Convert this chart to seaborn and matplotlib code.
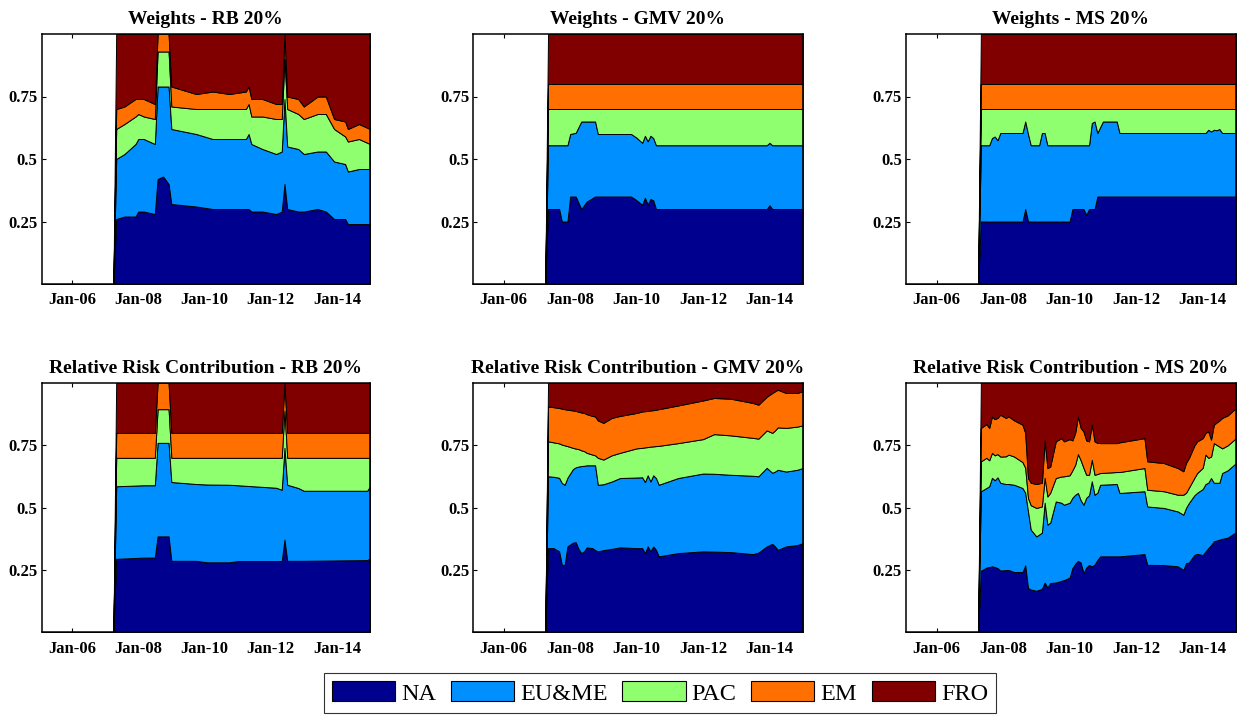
import matplotlib
matplotlib.use("Agg")
import matplotlib.pyplot as plt
from matplotlib.patches import Patch
import seaborn as sns

# ---------------------------------------------------------------- categories
REGIONS = ["NA", "EU&ME", "PAC", "EM", "FRO"]
COLORS = ["#00008F", "#008FFF", "#8FFF70", "#FF7000", "#800000"]

X_TICKS = ["2006-01", "2008-01", "2010-01", "2012-01", "2014-01"]
X_TICK_LABELS = ["Jan-06", "Jan-08", "Jan-10", "Jan-12", "Jan-14"]
Y_TICKS = [0.25, 0.5, 0.75]
Y_TICK_LABELS = ["0.25", "0.5", "0.75"]
X_RANGE = ["2005-02", "2015-01"]

TITLES = [
    "Weights - RB 20%", "Weights - GMV 20%", "Weights - MS 20%",
    "Relative Risk Contribution - RB 20%",
    "Relative Risk Contribution - GMV 20%",
    "Relative Risk Contribution - MS 20%",
]

# ---------------------------------------------------------------- weights, risk budgeting
W_RB_DATES = ["2005-02", "2007-04", "2007-05", "2007-08", "2007-12", "2008-01", "2008-03",
              "2008-07", "2008-08", "2008-10", "2008-12", "2009-01", "2009-10", "2010-04",
              "2010-10", "2011-04", "2011-05", "2011-06", "2011-10", "2012-03", "2012-05",
              "2012-06", "2012-07", "2012-11", "2013-01", "2013-06", "2013-09", "2013-12",
              "2014-04", "2014-05", "2014-09", "2015-01"]
W_RB_NA = [0, 0, .26, .27, .27, .29, .29, .28, .42, .43, .40, .32, .31, .30, .30, .30,
           .30, .29, .29, .28, .29, .40, .30, .29, .29, .30, .29, .26, .26, .24, .24, .24]
W_RB_EU = [0, 0, .24, .25, .29, .29, .29, .28, .37, .36, .39, .30, .29, .28, .28, .28,
           .30, .27, .25, .24, .24, .34, .25, .25, .23, .23, .24, .23, .22, .21, .22, .22]
W_RB_PAC = [0, 0, .12, .12, .11, .10, .09, .10, .14, .14, .14, .09, .10, .12, .12, .12,
            .12, .11, .13, .14, .13, .16, .15, .14, .14, .15, .15, .13, .11, .12, .12, .10]
W_RB_EM = [0, 0, .08, .07, .07, .06, .07, .06, .07, .07, .07, .08, .06, .07, .06, .07,
           .07, .07, .07, .06, .06, .10, .05, .06, .05, .07, .07, .04, .06, .05, .06, .06]
W_RB_FRO = [0, 0, .30, .29, .26, .26, .26, .28, 0, 0, 0, .21, .24, .23, .24, .23,
            .21, .26, .26, .28, .28, 0, .25, .26, .29, .25, .25, .34, .35, .38, .36, .38]

# ---------------------------------------------------------------- weights, global minimum variance
W_GMV_DATES = ["2005-02", "2007-04", "2007-05", "2007-09", "2007-10", "2007-12", "2008-01",
               "2008-03", "2008-05", "2008-07", "2008-10", "2008-11", "2009-11", "2010-01",
               "2010-03", "2010-04", "2010-05", "2010-06", "2010-07", "2010-08", "2013-12",
               "2014-01", "2014-02", "2015-01"]
W_GMV_NA = [0, 0, .30, .30, .25, .25, .35, .35, .30, .33, .35, .35, .35, .335, .317, .345,
            .318, .34, .335, .30, .30, .315, .30, .30]
W_GMV_EU = [0, 0, .255, .255, .305, .305, .25, .255, .35, .32, .30, .25, .25, .25, .248,
            .248, .253, .253, .249, .255, .255, .25, .255, .255]
W_GMV_PAC = [0, 0, .145, .145, .145, .145, .10, .095, .05, .05, .05, .10, .10, .115, .135,
             .107, .129, .107, .116, .145, .145, .135, .145, .145]
W_GMV_EM = [0, 0, .10, .10, .10, .10, .10, .10, .10, .10, .10, .10, .10, .10, .10, .10,
            .10, .10, .10, .10, .10, .10, .10, .10]
W_GMV_FRO = [0, 0, .20, .20, .20, .20, .20, .20, .20, .20, .20, .20, .20, .20, .20, .20,
             .20, .20, .20, .20, .20, .20, .20, .20]

# ---------------------------------------------------------------- weights, maximum Sharpe
W_MS_DATES = ["2005-02", "2007-04", "2007-05", "2007-08", "2007-09", "2007-10", "2007-11",
              "2007-12", "2008-08", "2008-09", "2008-10", "2008-11", "2009-02", "2009-03",
              "2009-04", "2009-05", "2010-01", "2010-02", "2010-06", "2010-07", "2010-08",
              "2010-09", "2010-10", "2010-11", "2011-01", "2011-06", "2011-07", "2014-02",
              "2014-03", "2014-04", "2014-05", "2014-06", "2014-07", "2014-08", "2015-01"]
W_MS_NA = [0, 0, .25, .25, .25, .25, .25, .25, .25, .30, .25, .25, .25, .25, .25, .25, .25,
           .30, .30, .277, .30, .30, .30, .35, .35, .35, .35, .35, .35, .35, .35, .35, .35,
           .35, .35]
W_MS_EU = [0, 0, .305, .305, .334, .34, .325, .354, .354, .35, .35, .305, .305, .354, .354,
           .305, .305, .255, .255, .278, .255, .344, .35, .254, .30, .30, .254, .254, .267,
           .26, .267, .265, .27, .254, .254]
W_MS_PAC = [0, 0, .145, .145, .116, .11, .125, .096, .096, .05, .10, .145, .145, .096, .096,
            .145, .145, .145, .145, .145, .145, .056, .05, .096, .05, .05, .096, .096, .083,
            .09, .083, .085, .08, .096, .096]
W_MS_EM = [0, 0, .10, .10, .10, .10, .10, .10, .10, .10, .10, .10, .10, .10, .10, .10, .10,
           .10, .10, .10, .10, .10, .10, .10, .10, .10, .10, .10, .10, .10, .10, .10, .10,
           .10, .10]
W_MS_FRO = [0, 0, .20, .20, .20, .20, .20, .20, .20, .20, .20, .20, .20, .20, .20, .20, .20,
            .20, .20, .20, .20, .20, .20, .20, .20, .20, .20, .20, .20, .20, .20, .20, .20,
            .20, .20]

# ---------------------------------------------------------------- risk contributions, risk budgeting
R_RB_DATES = ["2005-02", "2007-04", "2007-05", "2008-03", "2008-07", "2008-08", "2008-12",
              "2009-01", "2009-10", "2010-02", "2010-10", "2011-01", "2012-03", "2012-05",
              "2012-06", "2012-07", "2012-11", "2013-01", "2014-12", "2015-01"]
R_RB_NA = [0, 0, .295, .30, .30, .385, .385, .287, .287, .281, .281, .286, .286, .286,
           .372, .287, .287, .287, .29, .298]
R_RB_EU = [0, 0, .291, .29, .29, .375, .375, .316, .308, .312, .311, .304, .294, .286,
           .368, .305, .292, .281, .278, .288]
R_RB_PAC = [0, 0, .114, .11, .11, .135, .135, .097, .105, .107, .108, .11, .12, .128,
            .15, .108, .121, .132, .132, .114]
R_RB_EM = [0, 0, .10, .10, .10, .105, .105, .10, .10, .10, .10, .10, .10, .10,
           .11, .10, .10, .10, .10, .10]
R_RB_FRO = [0, 0, .20, .20, .20, 0, 0, .20, .20, .20, .20, .20, .20, .20,
            0, .20, .20, .20, .20, .20]

# ---------------------------------------------------------------- risk contributions, global minimum variance
R_GMV_DATES = ["2005-02", "2007-04", "2007-05", "2007-07", "2007-09", "2007-10", "2007-11",
               "2007-12", "2008-02", "2008-03", "2008-04", "2008-05", "2008-06", "2008-07",
               "2008-09", "2008-10", "2008-11", "2009-01", "2009-04", "2009-07", "2010-01",
               "2010-03", "2010-04", "2010-05", "2010-06", "2010-07", "2010-08", "2010-09",
               "2011-04", "2012-01", "2012-05", "2012-11", "2013-07", "2013-09", "2013-12",
               "2014-02", "2014-03", "2014-04", "2014-07", "2014-11", "2015-01"]
R_GMV_NA = [0, 0, .338, .338, .325, .271, .271, .345, .36, .362, .335, .318, .325, .341,
            .338, .33, .325, .33, .335, .341, .338, .338, .318, .345, .325, .345, .331,
            .305, .318, .325, .324, .322, .314, .32, .345, .355, .345, .331, .345, .35, .358]
R_GMV_EU = [0, 0, .288, .286, .295, .328, .321, .275, .295, .30, .33, .349, .343, .329,
            .332, .34, .267, .264, .27, .278, .283, .284, .285, .285, .28, .285, .288,
            .287, .301, .312, .312, .31, .314, .306, .315, .285, .30, .321, .30, .302, .301]
R_GMV_PAC = [0, 0, .14, .138, .138, .154, .158, .127, .085, .075, .07, .063, .059, .05,
             .043, .04, .108, .099, .105, .101, .117, .118, .139, .113, .14, .116, .128,
             .156, .14, .138, .159, .158, .152, .151, .15, .16, .165, .17, .175, .173, .171]
R_GMV_EM = [0, 0, .14, .141, .142, .144, .145, .146, .15, .151, .15, .152, .153, .155,
            .155, .156, .15, .147, .15, .148, .142, .146, .145, .145, .145, .145, .146,
            .147, .151, .155, .145, .147, .14, .136, .135, .16, .157, .151, .14, .135, .137]
R_GMV_FRO = [0, 0, .094, .097, .10, .103, .105, .107, .11, .112, .115, .118, .12, .125,
             .132, .134, .15, .16, .14, .132, .12, .114, .113, .112, .11, .109, .107,
             .105, .09, .07, .06, .063, .08, .087, .055, .04, .033, .027, .04, .04, .033]

# ---------------------------------------------------------------- risk contributions, maximum Sharpe
R_MS_DATES = ["2005-02", "2007-04", "2007-05", "2007-07", "2007-08", "2007-09", "2007-10",
              "2007-11", "2007-12", "2008-02", "2008-03", "2008-05", "2008-08", "2008-09",
              "2008-10", "2008-11", "2009-01", "2009-03", "2009-04", "2009-05", "2009-06",
              "2009-08", "2009-10", "2009-11", "2010-01", "2010-02", "2010-03", "2010-04",
              "2010-05", "2010-06", "2010-07", "2010-08", "2010-09", "2010-10", "2010-11",
              "2010-12", "2011-06", "2011-07", "2012-04", "2012-05", "2012-11", "2013-04",
              "2013-06", "2013-07", "2013-08", "2013-10", "2013-11", "2014-01", "2014-02",
              "2014-03", "2014-04", "2014-05", "2014-07", "2014-08", "2014-10", "2015-01"]
R_MS_NA = [0, 0, .247, .26, .262, .265, .262, .258, .248, .25, .25, .242, .242, .269, .178,
           .172, .167, .175, .20, .18, .198, .20, .207, .21, .22, .258, .275, .287, .28,
           .238, .26, .271, .265, .272, .29, .305, .305, .305, .314, .271, .27, .265, .251,
           .278, .28, .311, .315, .31, .325, .338, .35, .365, .372, .375, .38, .402]
R_MS_EU = [0, 0, .319, .319, .324, .355, .348, .364, .352, .345, .345, .35, .337, .291, .307,
           .24, .218, .225, .32, .252, .242, .325, .313, .302, .30, .282, .277, .272, .25,
           .274, .28, .279, .341, .28, .27, .287, .29, .254, .252, .234, .229, .22, .221,
           .222, .239, .239, .245, .265, .27, .262, .269, .235, .228, .264, .27, .277]
R_MS_PAC = [0, 0, .12, .121, .104, .10, .10, .093, .105, .111, .118, .113, .104, .10, .054,
            .098, .114, .105, .10, .113, .12, .094, .105, .114, .11, .11, .12, .156, .16,
            .148, .092, .082, .086, .08, .075, .047, .048, .084, .093, .067, .067, .067, .08,
            .06, .061, .07, .079, .085, .118, .10, .086, .159, .145, .099, .10, .10]
R_MS_EM = [0, 0, .134, .135, .13, .146, .145, .145, .168, .154, .153, .145, .15, .14, .08,
           .09, .096, .095, .15, .114, .105, .147, .154, .14, .145, .12, .128, .151, .13,
           .146, .138, .134, .141, .134, .125, .12, .116, .119, .12, .114, .113, .107, .094,
           .12, .119, .13, .127, .119, .087, .106, .068, .074, .105, .122, .12, .121]
R_MS_FRO = [0, 0, .18, .165, .18, .134, .145, .14, .127, .14, .134, .15, .167, .20, .381,
            .40, .405, .40, .23, .341, .335, .234, .221, .234, .225, .23, .20, .134, .18,
            .194, .23, .234, .167, .234, .24, .241, .241, .238, .221, .314, .321, .341, .354,
            .32, .301, .25, .234, .221, .20, .194, .227, .167, .15, .14, .13, .10]

PANELS = [
    (W_RB_DATES, [W_RB_NA, W_RB_EU, W_RB_PAC, W_RB_EM, W_RB_FRO]),
    (W_GMV_DATES, [W_GMV_NA, W_GMV_EU, W_GMV_PAC, W_GMV_EM, W_GMV_FRO]),
    (W_MS_DATES, [W_MS_NA, W_MS_EU, W_MS_PAC, W_MS_EM, W_MS_FRO]),
    (R_RB_DATES, [R_RB_NA, R_RB_EU, R_RB_PAC, R_RB_EM, R_RB_FRO]),
    (R_GMV_DATES, [R_GMV_NA, R_GMV_EU, R_GMV_PAC, R_GMV_EM, R_GMV_FRO]),
    (R_MS_DATES, [R_MS_NA, R_MS_EU, R_MS_PAC, R_MS_EM, R_MS_FRO]),
]


def month_pos(stamp):
    """'YYYY-MM' -> decimal year used as the x coordinate."""
    year, month = stamp.split("-")
    return int(year) + (int(month) - 1) / 12.0


sns.set_theme(style="ticks", rc={
    "axes.edgecolor": "black",
    "axes.linewidth": 1.1,
    "xtick.direction": "in",
    "ytick.direction": "in",
    "xtick.top": True,
    "ytick.right": True,
    "text.color": "black",
    "axes.titlecolor": "black",
    "xtick.labelcolor": "black",
    "ytick.labelcolor": "black",
})
plt.rcParams["font.family"] = ["Liberation Serif", "DejaVu Serif"]

fig = plt.figure(figsize=(12.41, 7.15), dpi=100)

W, H = 1241.0, 715.0
col_px = [(41.7, 328.3), (473.3, 329.4), (906.0, 330.0)]
row_px = [(34.0, 250.0), (383.0, 249.4)]

for i, (dates, series) in enumerate(PANELS):
    r, c = divmod(i, 3)
    left, width = col_px[c]
    top, height = row_px[r]
    ax = fig.add_axes([left / W, 1 - (top + height) / H, width / W, height / H])

    x = [month_pos(d) for d in dates]
    ax.stackplot(x, *series, colors=COLORS, edgecolor="black", linewidth=0.7)

    ax.set_xlim(month_pos(X_RANGE[0]), month_pos(X_RANGE[1]))
    ax.set_ylim(0, 1)
    ax.set_xticks([month_pos(t) for t in X_TICKS])
    ax.set_xticklabels(X_TICK_LABELS, fontweight="bold", fontsize=12)
    ax.set_yticks(Y_TICKS)
    ax.set_yticklabels(Y_TICK_LABELS, fontweight="bold", fontsize=12)
    ax.tick_params(axis="x", length=3, width=0.8, pad=6, colors="black")
    ax.tick_params(axis="y", length=3, width=0.8, pad=3, colors="black")
    for side in ("top", "right", "bottom", "left"):
        ax.spines[side].set_visible(True)
        ax.spines[side].set_zorder(5)
    ax.set_title(TITLES[i], fontsize=14, fontweight="bold", pad=7, color="black")

handles = [Patch(facecolor=col, edgecolor="black", linewidth=0.8, label=name)
           for name, col in zip(REGIONS, COLORS)]
leg = fig.legend(handles=handles, loc="center", bbox_to_anchor=(660 / W, 1 - 693 / H),
                 ncol=5, frameon=True, fancybox=False, fontsize=17.5,
                 handlelength=2.6, handleheight=0.9, handletextpad=0.25,
                 columnspacing=0.6, borderpad=0.35)
leg.get_frame().set_edgecolor("black")
leg.get_frame().set_linewidth(0.8)
for txt in leg.get_texts():
    txt.set_color("black")

fig.savefig("out.png", dpi=100, facecolor="white")
